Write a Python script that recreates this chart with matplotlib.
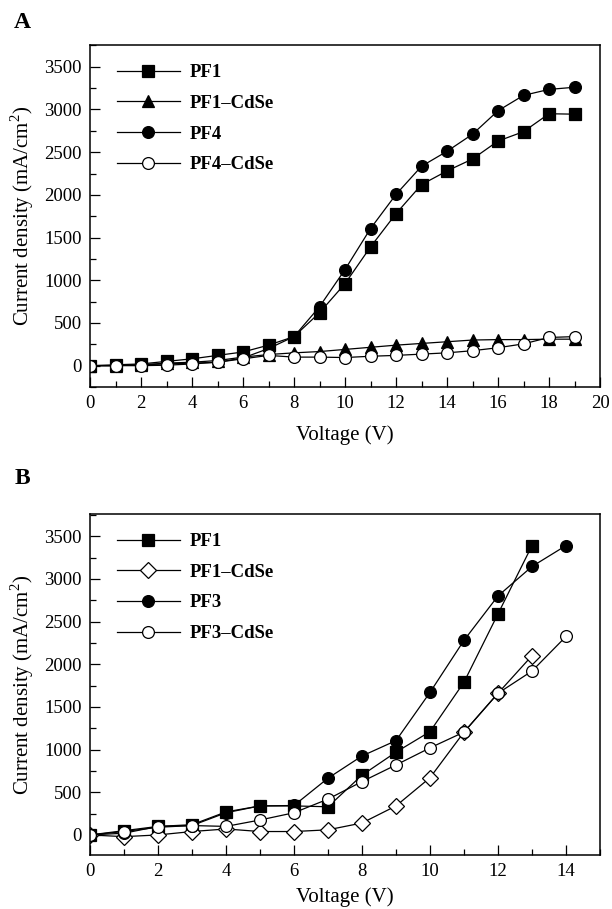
import matplotlib
matplotlib.use("Agg")
import matplotlib.pyplot as plt
from matplotlib.ticker import MultipleLocator

plt.rcParams["font.family"] = ["Liberation Serif", "DejaVu Serif"]
plt.rcParams["mathtext.fontset"] = "custom"
plt.rcParams["mathtext.rm"] = "Liberation Serif"

# Panel A data
volt_a = list(range(20))
pf1_a = [0, 10, 20, 50, 80, 120, 160, 240, 340, 620, 960, 1390, 1780, 2120, 2280, 2420, 2630, 2740, 2950, 2945]
pf1_cdse_a = [0, 0, 10, 30, 40, 60, 100, 130, 150, 165, 190, 215, 240, 260, 280, 300, 305, 305, 310, 310]
pf4_a = [0, 0, 10, 20, 30, 40, 90, 200, 340, 690, 1125, 1605, 2005, 2335, 2510, 2710, 2985, 3165, 3235, 3260]
pf4_cdse_a = [0, 0, 0, 5, 20, 40, 80, 120, 100, 100, 95, 110, 120, 135, 150, 175, 210, 255, 330, 340]

# Panel B data
volt_b = list(range(15))
pf1_b = [0, 50, 100, 120, 270, 340, 340, 330, 700, 970, 1210, 1790, 2590, 3390]
pf1_cdse_b = [0, -20, 0, 40, 70, 40, 40, 60, 140, 340, 670, 1205, 1660, 2100]
pf3_b = [0, 20, 100, 110, 260, 340, 345, 665, 925, 1105, 1670, 2280, 2800, 3145, 3390]
pf3_cdse_b = [0, 40, 90, 110, 100, 175, 260, 420, 625, 820, 1020, 1205, 1660, 1920, 2325]

W, H = 612, 909
fig = plt.figure(figsize=(W / 100, H / 100), dpi=100)

mk = dict(color="black", linewidth=0.9, markeredgewidth=0.9, markeredgecolor="black")


def style_axes(ax, xmax, ylim, xpad):
    ax.set_xlim(0, xmax)
    ax.set_ylim(*ylim)
    ax.xaxis.set_major_locator(MultipleLocator(2))
    ax.xaxis.set_minor_locator(MultipleLocator(1))
    ax.yaxis.set_major_locator(MultipleLocator(500))
    ax.yaxis.set_minor_locator(MultipleLocator(250))
    ax.tick_params(which="both", direction="in", top=False, right=False,
                   labelsize=13.5, pad=6, width=0.9)
    ax.tick_params(which="major", length=7)
    ax.tick_params(which="minor", length=4)
    for s in ax.spines.values():
        s.set_linewidth(1.1)
    ax.set_xlabel("Voltage (V)", fontsize=15, labelpad=xpad)
    ax.set_ylabel(r"Current density (mA/cm$^\mathrm{2}$)", fontsize=15, labelpad=6)


def add_legend(ax):
    ax.legend(loc="upper left", bbox_to_anchor=(0.052, 0.944), frameon=False,
              numpoints=1, handlelength=3.4, handletextpad=0.5,
              labelspacing=0.72, borderpad=0, borderaxespad=0,
              prop={"weight": "bold", "size": 13.5})


# ---- Panel A
ax1 = fig.add_axes([90 / W, 1 - 387 / H, 510 / W, 342 / H])
ax1.plot(volt_a, pf1_a, marker="s", markersize=8.5, markerfacecolor="black", label="PF1", **mk)
ax1.plot(volt_a, pf1_cdse_a, marker="^", markersize=8.5, markerfacecolor="black", label="PF1\u2013CdSe", **mk)
ax1.plot(volt_a, pf4_a, marker="o", markersize=8.5, markerfacecolor="black", label="PF4", **mk)
ax1.plot(volt_a, pf4_cdse_a, marker="o", markersize=8.5, markerfacecolor="white", label="PF4\u2013CdSe", **mk)
style_axes(ax1, 20, (-250, 3755), 9)
add_legend(ax1)
fig.text(22 / W, 1 - 22 / H, "A", fontsize=17, fontweight="bold", ha="center", va="center")

# ---- Panel B
ax2 = fig.add_axes([90 / W, 1 - 855 / H, 510 / W, 341 / H])
ax2.plot(volt_b[:14], pf1_b, marker="s", markersize=8.5, markerfacecolor="black", label="PF1", **mk)
ax2.plot(volt_b[:14], pf1_cdse_b, marker="D", markersize=8, markerfacecolor="white", label="PF1\u2013CdSe", **mk)
ax2.plot(volt_b, pf3_b, marker="o", markersize=8.5, markerfacecolor="black", label="PF3", **mk)
ax2.plot(volt_b, pf3_cdse_b, marker="o", markersize=8.5, markerfacecolor="white", label="PF3\u2013CdSe", **mk)
style_axes(ax2, 15, (-235, 3760), 5)
add_legend(ax2)
fig.text(22 / W, 1 - 478 / H, "B", fontsize=17, fontweight="bold", ha="center", va="center")

fig.savefig("out.png", dpi=100)
